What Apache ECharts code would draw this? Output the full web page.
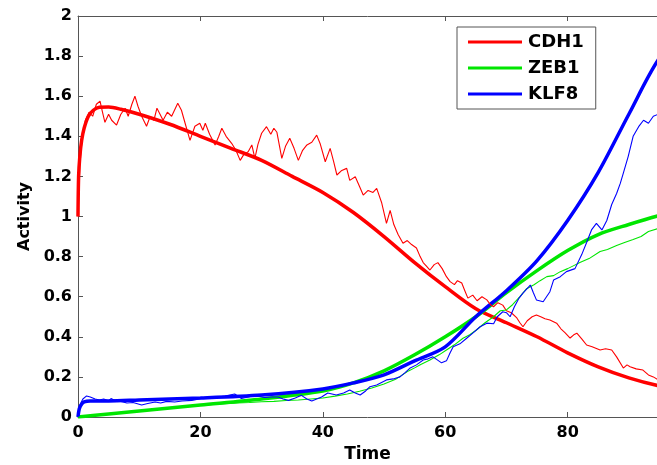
<!DOCTYPE html>
<html>
<head>
<meta charset="utf-8">
<script src="https://cdn.jsdelivr.net/npm/echarts@6/dist/echarts.min.js"></script>
<style>
  html, body { margin: 0; padding: 0; background: #fff; }
  #chart { width: 657px; height: 465px; }
</style>
</head>
<body>
<div id="chart"></div>
<script>
// 범례 이름
var legendNames = ['CDH1', 'ZEB1', 'KLF8'];

// 결정론적 모델 (굵은 선) [시간, 활성도]
var cdh1Model = [[0,1.0],[0.1,1.2],[0.3,1.3],[0.6,1.38],[1,1.44],[1.7,1.5],[2.5,1.53],[3.5,1.545],[5,1.546],[7,1.535],[10,1.51],[15,1.46],[20,1.40],[25,1.34],[30,1.28],[35,1.20],[40,1.12],[45,1.02],[50,0.90],[55,0.77],[60,0.65],[65,0.54],[70,0.47],[75,0.40],[80,0.32],[85,0.25],[90,0.195],[95,0.155],[100,0.13]];
var zeb1Model = [[0,0],[5,0.015],[10,0.03],[20,0.06],[30,0.09],[40,0.13],[45,0.17],[50,0.23],[55,0.31],[60,0.40],[65,0.50],[70,0.62],[75,0.73],[80,0.83],[85,0.91],[90,0.96],[95,1.005],[100,1.04]];
var klf8Model = [[0,0],[0.2,0.04],[0.5,0.06],[1,0.075],[2,0.08],[5,0.08],[10,0.085],[20,0.095],[30,0.11],[40,0.14],[45,0.17],[50,0.21],[55,0.28],[60,0.35],[65,0.50],[70,0.63],[75,0.78],[80,0.98],[85,1.22],[90,1.51],[95,1.79],[100,1.95]];

// 확률적 시뮬레이션 (얇은 선)
var cdh1Noisy = [[0,1.0],[0.3,1.25],[0.7,1.4],[1.2,1.48],[1.8,1.52],[2.4,1.5],[3.0,1.56],[3.6,1.575],[4.0,1.52],[4.4,1.47],[5.0,1.51],[5.5,1.48],[6.3,1.456],[7.0,1.51],[7.7,1.54],[8.2,1.5],[8.8,1.56],[9.3,1.6],[9.8,1.55],[10.4,1.5],[11.2,1.45],[11.8,1.5],[12.4,1.48],[12.9,1.54],[13.4,1.51],[13.9,1.48],[14.6,1.52],[15.3,1.5],[16.3,1.565],[16.9,1.53],[17.5,1.465],[18.3,1.38],[19.1,1.45],[19.9,1.465],[20.4,1.43],[20.8,1.465],[21.5,1.41],[22.4,1.357],[23.0,1.4],[23.5,1.44],[24.2,1.4],[25.1,1.365],[25.8,1.33],[26.5,1.28],[27.1,1.31],[27.8,1.323],[28.4,1.357],[28.9,1.29],[29.4,1.36],[30.0,1.415],[30.8,1.448],[31.5,1.41],[32.0,1.44],[32.5,1.42],[33.3,1.29],[33.9,1.35],[34.6,1.39],[35.3,1.34],[36.0,1.28],[36.7,1.33],[37.4,1.357],[38.2,1.37],[39.0,1.406],[39.6,1.36],[40.4,1.273],[41.2,1.34],[41.8,1.27],[42.3,1.207],[43.1,1.23],[43.9,1.24],[44.4,1.18],[45.3,1.198],[46.0,1.15],[46.6,1.107],[47.4,1.13],[48.2,1.12],[48.8,1.14],[49.6,1.07],[50.4,0.966],[51.0,1.03],[51.6,0.96],[52.3,0.91],[53.1,0.867],[53.8,0.88],[54.5,0.86],[55.3,0.843],[55.9,0.8],[56.4,0.77],[57.0,0.75],[57.5,0.733],[58.2,0.76],[58.8,0.77],[59.5,0.74],[60.2,0.7],[60.8,0.675],[61.5,0.66],[62.0,0.68],[62.7,0.668],[63.2,0.63],[63.7,0.593],[64.5,0.608],[65.2,0.58],[66.0,0.6],[66.8,0.584],[67.4,0.56],[67.9,0.55],[68.6,0.57],[69.4,0.558],[70.0,0.53],[70.8,0.52],[71.7,0.494],[72.2,0.47],[72.7,0.45],[73.4,0.48],[74.2,0.5],[74.9,0.509],[75.6,0.5],[76.3,0.49],[77.1,0.484],[78.2,0.468],[78.9,0.44],[79.6,0.42],[80.4,0.394],[81.0,0.41],[81.5,0.418],[82.3,0.39],[83.1,0.359],[84.0,0.35],[85.3,0.334],[86.2,0.34],[87.2,0.334],[88.0,0.3],[89.1,0.244],[89.7,0.26],[90.2,0.251],[91.2,0.24],[92.3,0.234],[93.2,0.21],[94.0,0.2],[94.8,0.185]];
var zeb1Noisy = [[0,0],[2,0.006],[4,0.012],[6,0.018],[8,0.024],[10,0.03],[12,0.036],[14,0.042],[16,0.048],[18,0.053],[20,0.058],[22,0.062],[24,0.066],[26,0.07],[28,0.072],[30,0.076],[32,0.078],[34,0.082],[36,0.085],[38,0.09],[40,0.095],[42,0.104],[44,0.115],[46,0.128],[48,0.145],[50,0.165],[52,0.19],[54,0.23],[55,0.245],[56,0.262],[57.5,0.284],[59,0.31],[60.2,0.334],[61.5,0.36],[62.9,0.393],[64,0.41],[65.1,0.434],[66.5,0.47],[67.9,0.5],[69,0.53],[70,0.534],[71,0.56],[72.2,0.6],[73.3,0.64],[74.5,0.66],[75.5,0.68],[76.6,0.7],[77.7,0.705],[78.8,0.725],[80,0.74],[81,0.755],[82,0.77],[83.5,0.79],[85.3,0.825],[86.5,0.835],[88,0.855],[89.3,0.87],[90.7,0.885],[92,0.9],[93.2,0.925],[94.8,0.94]];
var klf8Noisy = [[0,0],[0.3,0.06],[0.8,0.09],[1.4,0.105],[2.0,0.1],[2.8,0.09],[3.5,0.085],[4.2,0.09],[5.0,0.081],[5.4,0.092],[6.2,0.08],[7.0,0.078],[8.0,0.07],[9.0,0.072],[10.4,0.06],[11.4,0.067],[12.6,0.075],[13.5,0.07],[14.5,0.078],[15.8,0.075],[17.0,0.08],[18.6,0.083],[20.2,0.092],[21.5,0.095],[22.9,0.1],[24.0,0.105],[25.6,0.115],[26.7,0.092],[27.8,0.1],[28.9,0.108],[30.5,0.097],[31.6,0.1],[32.7,0.1],[33.5,0.09],[34.4,0.083],[35.5,0.095],[36.5,0.108],[37.4,0.09],[38.2,0.08],[39.0,0.09],[39.8,0.1],[40.8,0.12],[42.2,0.11],[43.4,0.12],[44.4,0.135],[45.3,0.12],[46.1,0.11],[47.0,0.13],[47.7,0.151],[48.8,0.16],[50.4,0.185],[51.5,0.19],[52.6,0.2],[53.4,0.22],[54.2,0.243],[55.3,0.26],[56.4,0.284],[57.2,0.29],[58.0,0.3],[58.7,0.285],[59.4,0.27],[60.2,0.28],[60.8,0.32],[61.3,0.35],[62.4,0.365],[63.5,0.393],[64.5,0.418],[65.7,0.45],[66.8,0.468],[67.9,0.465],[68.5,0.5],[69.4,0.525],[70.0,0.52],[70.6,0.5],[71.3,0.55],[72.0,0.59],[72.7,0.618],[73.9,0.658],[74.4,0.62],[74.9,0.584],[76.0,0.575],[77.1,0.625],[77.7,0.683],[78.8,0.7],[79.8,0.725],[81.2,0.74],[82.3,0.81],[83.1,0.87],[83.9,0.933],[84.7,0.966],[85.6,0.933],[86.4,0.98],[87.2,1.06],[88.0,1.115],[88.6,1.165],[89.1,1.216],[89.9,1.3],[90.7,1.4],[91.6,1.448],[92.4,1.48],[93.2,1.465],[94.0,1.5],[94.8,1.51]];

// 원본 그림은 오른쪽이 잘려 있음 (t≈94.6 까지만 보임)
var timeMin = 0, timeMax = 94.6;

var colors = ['#ff0000', '#00e600', '#0000ff'];
var labelFont = { fontFamily: 'DejaVu Sans', fontWeight: 'bold', fontSize: 16, color: '#000' };

var chart = echarts.init(document.getElementById('chart'));

function thick(name, data, color) {
    return { name: name, type: 'line', data: data, showSymbol: false, symbol: 'none',
             smooth: 0.3, color: color, lineStyle: { width: 3.5, color: color }, z: 2 };
}
function thin(name, data, color) {
    return { name: name, type: 'line', data: data, showSymbol: false, symbol: 'none',
             color: color, lineStyle: { width: 1.1, color: color }, z: 3 };
}

var option = {
    animation: false,
    grid: { left: 78, top: 16, bottom: 48, right: 0, containLabel: false, outerBoundsMode: 'none' },
    legend: {
        data: legendNames,
        orient: 'vertical',
        left: 457, top: 27,
        padding: [6, 12, 6, 11],
        itemGap: 8,
        itemWidth: 54, itemHeight: 3,
        icon: 'rect',
        backgroundColor: '#fff',
        borderColor: '#555', borderWidth: 1, borderRadius: 0,
        textStyle: { fontFamily: 'DejaVu Sans', fontWeight: 'bold', fontSize: 18, color: '#000', lineHeight: 18, padding: [0, 0, 0, 1] }
    },
    xAxis: [{
        type: 'value', min: timeMin, max: timeMax, interval: 20, position: 'bottom',
        name: 'Time', nameLocation: 'middle', nameGap: 27,
        nameTextStyle: { fontFamily: 'DejaVu Sans', fontWeight: 'bold', fontSize: 17, color: '#000' },
        axisLine: { show: true, lineStyle: { color: '#555', width: 1 } },
        axisTick: { show: true, inside: true, length: 5, lineStyle: { color: '#555' } },
        axisLabel: Object.assign({ margin: 8, showMaxLabel: false }, labelFont),
        splitLine: { show: false }
    }, {
        type: 'value', min: timeMin, max: timeMax, interval: 20, position: 'top',
        axisLine: { show: true, lineStyle: { color: '#555', width: 1 } },
        axisTick: { show: true, inside: true, length: 5, lineStyle: { color: '#555' } },
        axisLabel: { show: false },
        splitLine: { show: false }
    }],
    yAxis: {
        type: 'value', min: 0, max: 2, interval: 0.2,
        name: 'Activity', nameLocation: 'middle', nameGap: 43, nameRotate: 90,
        nameTextStyle: { fontFamily: 'DejaVu Sans', fontWeight: 'bold', fontSize: 16, color: '#000' },
        axisLine: { show: true, lineStyle: { color: '#555', width: 1 } },
        axisTick: { show: true, inside: true, length: 5, lineStyle: { color: '#555' } },
        axisLabel: Object.assign({ margin: 6 }, labelFont),
        splitLine: { show: false }
    },
    series: [
        thick('CDH1', cdh1Model, colors[0]),
        thick('ZEB1', zeb1Model, colors[1]),
        thick('KLF8', klf8Model, colors[2]),
        thin('CDH1 sim', cdh1Noisy, colors[0]),
        thin('ZEB1 sim', zeb1Noisy, colors[1]),
        thin('KLF8 sim', klf8Noisy, colors[2])
    ]
};

chart.setOption(option);
</script>
</body>
</html>
